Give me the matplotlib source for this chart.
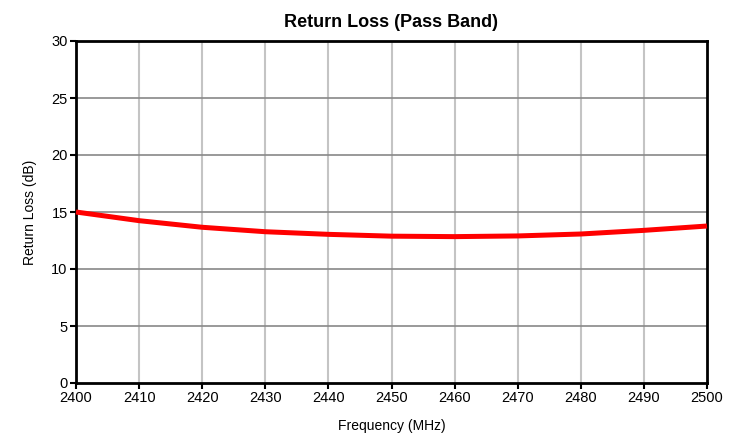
import matplotlib
matplotlib.use("Agg")
import matplotlib.pyplot as plt

freq = [2400, 2410, 2420, 2430, 2440, 2450, 2460, 2470, 2480, 2490, 2500]
return_loss = [15.0, 14.24, 13.66, 13.27, 13.04, 12.88, 12.84, 12.9, 13.07, 13.39, 13.77]
xticks = [2400, 2410, 2420, 2430, 2440, 2450, 2460, 2470, 2480, 2490, 2500]
yticks = [0, 5, 10, 15, 20, 25, 30]

plt.rcParams['font.family'] = ['Liberation Sans', 'DejaVu Sans']

fig = plt.figure(figsize=(7.36, 4.42), dpi=100)
ax = fig.add_axes([76/736, 1-383/442, (707-76)/736, (383-41)/442])

ax.plot(freq, return_loss, color='#ff0000', lw=3.6, solid_capstyle='butt',
        solid_joinstyle='round', zorder=3, clip_on=False)

ax.set_xlim(2400, 2500)
ax.set_ylim(0, 30)
ax.set_xticks(xticks)
ax.set_yticks(yticks)
for x in xticks[1:-1]:
    ax.axvline(x, color='#c4c4c4', lw=1.5, zorder=1)
for y in yticks[1:-1]:
    ax.axhline(y, color='#888888', lw=1.2, zorder=1)

for s in ax.spines.values():
    s.set_color('black')
    s.set_linewidth(2)
ax.tick_params(axis='both', direction='out', length=4, width=1.5, labelsize=10.5, colors='black', pad=2)

ax.set_title('Return Loss (Pass Band)', fontsize=13, fontweight='bold', pad=10)
ax.set_xlabel('Frequency (MHz)', fontsize=10, labelpad=10)
ax.set_ylabel('Return Loss (dB)', fontsize=10, labelpad=10)

fig.savefig('out.png', dpi=100)
